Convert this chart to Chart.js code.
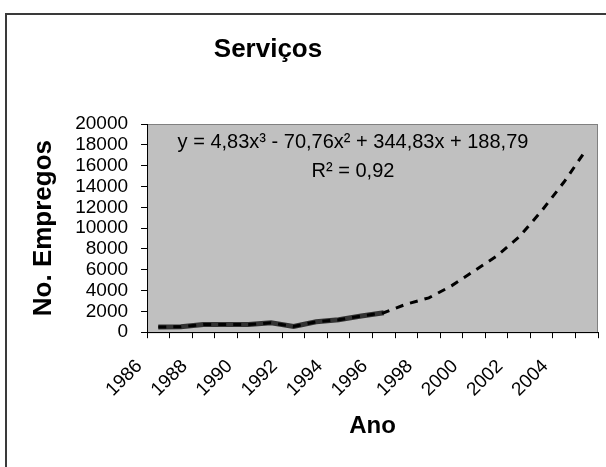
<!DOCTYPE html>
<html>
<head>
<meta charset="utf-8">
<script src="https://cdn.jsdelivr.net/npm/chart.js@4.4.0/dist/chart.umd.min.js"></script>
<style>
    body { margin: 0; background: #fff; overflow: hidden; }
    #frame { position: absolute; left: 5px; top: 13px; width: 700px; height: 600px; border: 2px solid #3a3a3a; }
    #wrap { position: absolute; left: 0; top: 0; width: 606px; height: 467px; }
</style>
</head>
<body>
<div id="frame"></div>
<div id="wrap"><canvas id="chart" width="606" height="467"></canvas></div>
<script>
const anos = ['1986', '1987', '1988', '1989', '1990', '1991', '1992', '1993', '1994', '1995',
    '1996', '1997', '1998', '1999', '2000', '2001', '2002', '2003', '2004', '2005']
const empregos = [500, 520, 730, 730, 740, 900, 550, 1000, 1190, 1550,
    1870, 2700, 3300, 4450, 5870, 7300, 9150, 11650, 14450, 17600]
// trecho inicial aparece mais grosso/escuro no original
const trechoEscuro = [500, 520, 730, 730, 740, 900, 550, 1000, 1190, 1550,
    1870, null, null, null, null, null, null, null, null, null]
const rotulosX = ['1986', '1988', '1990', '1992', '1994', '1996', '1998', '2000', '2002', '2004']
const ticksY = [0, 2000, 4000, 6000, 8000, 10000, 12000, 14000, 16000, 18000, 20000]

const fonte = "'Liberation Sans', Arial, sans-serif"

// Fundo cinza da área do gráfico
const fundoPlot = {
    id: 'fundoPlot',
    beforeDraw(chart) {
        const { ctx, chartArea: a } = chart
        ctx.save()
        ctx.fillStyle = '#c0c0c0'
        ctx.fillRect(a.left, a.top, a.right - a.left, a.bottom - a.top)
        ctx.strokeStyle = '#808080'
        ctx.lineWidth = 1
        ctx.strokeRect(a.left + 0.5, a.top + 0.5, a.right - a.left - 1, a.bottom - a.top)
        ctx.restore()
    }
}

// Título e equação da linha de tendência
const textos = {
    id: 'textos',
    afterDraw(chart) {
        const ctx = chart.ctx
        ctx.save()
        ctx.fillStyle = '#000'
        ctx.textAlign = 'center'
        ctx.textBaseline = 'alphabetic'
        ctx.font = `bold 26px ${fonte}`
        ctx.fillText('Serviços', 268, 57)
        ctx.font = `20px ${fonte}`
        ctx.fillText('y = 4,83x³ - 70,76x² + 344,83x + 188,79', 353, 148)
        ctx.fillText('R² = 0,92', 353, 177)
        ctx.restore()
    }
}

const ctx = document.getElementById('chart').getContext('2d')

new Chart(ctx, {
    type: 'line',
    data: {
        labels: anos,
        datasets: [{
            data: empregos,
            borderColor: '#000',
            borderWidth: 3,
            borderDash: [8, 7],
            pointRadius: 0,
            tension: 0,
            fill: false
        }, {
            data: trechoEscuro,
            borderColor: '#333',
            borderWidth: 5,
            pointRadius: 0,
            tension: 0,
            fill: false,
            order: 1
        }]
    },
    options: {
        responsive: false,
        animation: false,
        layout: { padding: { left: 28, top: 124, right: 8, bottom: 26 } },
        plugins: {
            legend: { display: false },
            tooltip: { enabled: false }
        },
        scales: {
            x: {
                type: 'category',
                offset: true,
                // rótulos girados não devem empurrar a borda direita
                afterFit: (scale) => { scale.paddingLeft = 0; scale.paddingRight = 0 },
                grid: { offset: true, drawOnChartArea: false, drawTicks: true, tickLength: 6, color: '#000' },
                border: { color: '#000', width: 1 },
                ticks: {
                    autoSkip: false,
                    maxRotation: 45,
                    minRotation: 45,
                    labelOffset: -19,
                    padding: 17,
                    color: '#000',
                    font: { family: fonte, size: 19 },
                    callback: (v, i) => rotulosX.includes(anos[i]) ? anos[i] : ''
                },
                title: {
                    display: true,
                    text: 'Ano',
                    color: '#000',
                    font: { family: fonte, size: 24, weight: 'bold' },
                    padding: { top: -6, bottom: 0 }
                }
            },
            y: {
                min: 0,
                max: 20000,
                afterBuildTicks: (scale) => { scale.ticks = ticksY.map(v => ({ value: v })) },
                grid: { drawOnChartArea: false, drawTicks: true, tickLength: 6, color: '#000' },
                border: { color: '#000', width: 1 },
                ticks: {
                    autoSkip: false,
                    padding: 13,
                    color: '#000',
                    font: { family: fonte, size: 19 },
                    callback: (v) => String(v)
                },
                title: {
                    display: true,
                    text: 'No. Empregos',
                    color: '#000',
                    font: { family: fonte, size: 26, weight: 'bold' },
                    padding: { top: 0, bottom: 3 }
                }
            }
        }
    },
    plugins: [fundoPlot, textos]
})
</script>
</body>
</html>
